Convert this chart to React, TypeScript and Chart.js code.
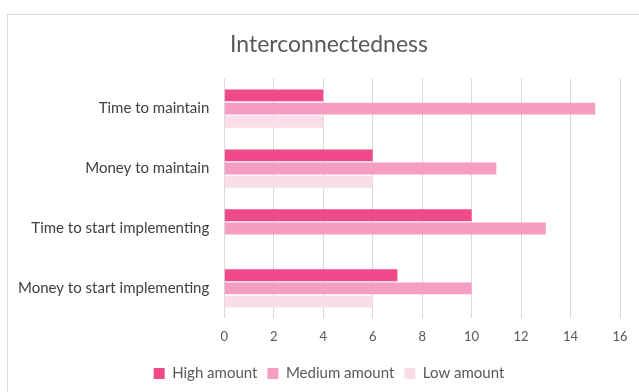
import React, { useEffect, useRef } from "react";
import { Chart, registerables } from "chart.js";

Chart.register(...registerables);

const categories = [
  "Time to maintain",
  "Money to maintain",
  "Time to start implementing",
  "Money to start implementing",
];
const highAmount = [4, 6, 10, 7];
const mediumAmount = [15, 11, 13, 10];
const lowAmount = [4, 6, 0, 6];
const seriesNames = ["High amount", "Medium amount", "Low amount"];
const titleText = "Interconnectedness";

export default function App() {
  const ref = useRef<HTMLCanvasElement | null>(null);
  useEffect(() => {
    if (!ref.current) return;
    const font = "Lato, 'Open Sans', sans-serif";
    const chart = new Chart(ref.current, {
      type: "bar",
      data: {
        labels: categories,
        datasets: [
          { label: seriesNames[0], data: highAmount, backgroundColor: "#F04A8A" },
          { label: seriesNames[1], data: mediumAmount, backgroundColor: "#F59EC1" },
          { label: seriesNames[2], data: lowAmount, backgroundColor: "#FADDE9" },
        ],
      },
      options: {
        indexAxis: "y",
        animation: false,
        responsive: false,
        maintainAspectRatio: false,
        datasets: { bar: { barPercentage: 0.9, categoryPercentage: 0.66 } },
        layout: { padding: { left: 3, right: 3, top: 0, bottom: 24 } },
        plugins: {
          title: {
            display: true,
            text: titleText,
            color: "#595959",
            font: { family: font, size: 23, weight: "normal" },
            padding: { top: 16, bottom: 20 },
          },
          legend: {
            position: "bottom",
            labels: {
              color: "#595959",
              font: { family: font, size: 15 },
              boxWidth: 11,
              boxHeight: 11,
              padding: 10,
            },
          },
          tooltip: { enabled: false },
        },
        scales: {
          x: {
            min: 0,
            max: 16,
            ticks: { stepSize: 2, color: "#595959", font: { family: font, size: 13 }, padding: 11 },
            grid: { color: "#D9D9D9", lineWidth: 1, drawTicks: false },
            border: { display: false },
            afterFit: (scale: any) => {
              scale.paddingRight = 30;
            },
          },
          y: {
            ticks: { color: "#404040", font: { family: font, size: 15 }, padding: 7 },
            grid: { display: false },
            border: { display: false },
          },
        },
      },
    });
    return () => chart.destroy();
  }, []);
  return (
    <div style={{ position: "fixed", left: 0, top: 0, width: 639, height: 392, overflow: "hidden", background: "#fff" }}>
      <div
        style={{
          position: "absolute",
          left: 7,
          top: 14,
          width: 700,
          height: 500,
          border: "1px solid #D9D9D9",
          boxSizing: "border-box",
        }}
      />
      <canvas
        ref={ref}
        width={642}
        height={400}
        style={{ position: "absolute", left: 8, top: 15, width: 642, height: 400 }}
      />
    </div>
  );
}
